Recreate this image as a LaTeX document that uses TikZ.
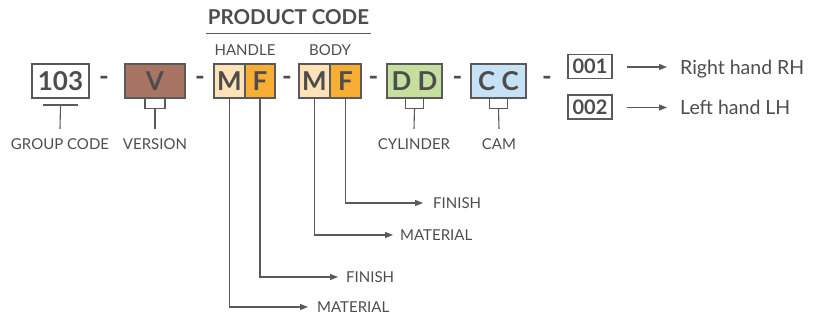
\documentclass[tikz,border=0pt]{standalone}
\usepackage{fontspec}
\setmainfont{Lato}
\usetikzlibrary{arrows.meta,positioning}
\definecolor{ink}{HTML}{4D4D4D}
\definecolor{edge}{HTML}{5A5A5A}
\definecolor{vbrown}{HTML}{A87565}
\definecolor{mlight}{HTML}{FDE3B7}
\definecolor{forange}{HTML}{F8AE35}
\definecolor{cgreen}{HTML}{C5DF9F}
\definecolor{cblue}{HTML}{C7E2F5}

\begin{document}
\begin{tikzpicture}[x=1pt,y=-1pt,font=\fontsize{15}{17}\selectfont,text=ink,
code/.style={draw=edge,line width=1.1pt,minimum height=34pt,inner sep=0pt,font=\fontsize{26}{28}\selectfont\bfseries},
sep/.style={inner sep=0pt,font=\fontsize{26}{28}\selectfont\bfseries},
num/.style={draw=edge,line width=1.1pt,minimum width=44pt,minimum height=24pt,inner sep=0pt,font=\fontsize{20}{22}\selectfont\bfseries},
tag/.style={anchor=base,inner xsep=0pt,inner ysep=10pt},
lbl/.style={anchor=west,inner ysep=0pt},
ln/.style={draw=edge,line width=1.1pt},
arr/.style={ln,-{Triangle[length=8pt,width=6pt]}}]
\useasboundingbox (0,0) rectangle (823,320);

% title
\node[anchor=base,inner xsep=0pt,inner ysep=8pt,minimum width=165pt,font=\fontsize{20.5}{22}\selectfont\bfseries] (pc) at (288.5,25) {PRODUCT CODE};
\draw[ln] (pc.south west) -- (pc.south east);
\node[tag] (hdl) at (245,56) {HANDLE};
\node[tag] (bdy) at (330,56) {BODY};

% code boxes
\node[code,minimum width=57pt] (grp) at (60.5,81) {103};
\node[code,fill=vbrown,minimum width=60pt] (ver) at (155,81) {V};
\node[code,fill=mlight,minimum width=31pt] (hm) at (229.5,81) {M};
\node[code,fill=forange,minimum width=30pt] (hf) at (260,81) {F};
\node[code,fill=mlight,minimum width=31pt] (bm) at (314.5,81) {M};
\node[code,fill=forange,minimum width=31pt] (bf) at (345.5,81) {F};
\node[code,fill=cgreen,minimum width=55pt] (cyl) at (414.5,81) {D D};
\node[code,fill=cblue,minimum width=55pt] (cam) at (498.5,81) {C C};
\node[sep] (d1) at (104,81) {-};
\node[sep] (d2) at (200,81) {-};
\node[sep] (d3) at (287,81) {-};
\node[sep] (d4) at (373.5,81) {-};
\node[sep] (d5) at (457.5,81) {-};
\node[sep] (d6) at (547,81) {-};

% hand
\node[num] (rh) at (590,66.5) {001};
\node[num] (lh) at (590,107) {002};
\node[lbl,inner xsep=13pt,text depth=0pt,font=\fontsize{19.5}{21}\selectfont] (rhl) at (667,67) {Right hand RH};
\node[lbl,inner xsep=13pt,text depth=0pt,font=\fontsize{19.5}{21}\selectfont] (lhl) at (667,107.5) {Left hand LH};
\draw[arr] ([xshift=14pt]rh.east|-rhl.west) -- (rhl.west);
\draw[arr] ([xshift=14pt]lh.east|-lhl.west) -- (lhl.west);

% labels under boxes
\node[tag] (grpl) at (60,150) {GROUP CODE};
\node[tag] (verl) at (155,150) {VERSION};
\node[tag] (cyll) at (414,150) {CYLINDER};
\node[tag] (caml) at (499,150) {CAM};
\draw[ln] (43,105) -- (78,105);
\draw[ln] (grp.south|-0,105) -- (grpl.north);
\draw[ln] ([xshift=-10pt]ver.south) -- ++(0,10) -| ([xshift=10pt]ver.south);
\draw[ln] ([yshift=-10pt]ver.south) -- (verl.north);
\draw[ln] ([xshift=-9pt]cyl.south) -- ++(0,10) -| ([xshift=9pt]cyl.south);
\draw[ln] ([yshift=-10pt]cyl.south) -- (cyll.north);
\draw[ln] ([xshift=-9pt]cam.south) -- ++(0,10) -| ([xshift=9pt]cam.south);
\draw[ln] ([yshift=-10pt]cam.south) -- (caml.north);

% material / finish
\node[lbl,inner xsep=10pt] (bfin) at (423,203) {FINISH};
\node[lbl,inner xsep=7pt] (bmat) at (393,235) {MATERIAL};
\node[lbl,inner xsep=8pt] (hfin) at (338,277) {FINISH};
\node[lbl,inner xsep=9pt] (hmat) at (308,307) {MATERIAL};
\draw[arr] (bf.south) |- (bfin.west);
\draw[arr] (bm.south) |- (bmat.west);
\draw[arr] (hf.south) |- (hfin.west);
\draw[arr] (hm.south) |- (hmat.west);
\end{tikzpicture}
\end{document}
